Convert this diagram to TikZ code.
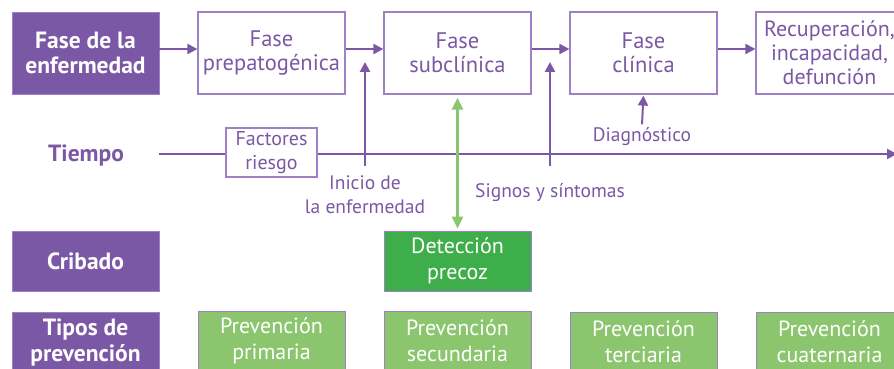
\documentclass[tikz,border=0pt]{standalone}
\usepackage{fontspec}
\setmainfont{PT Sans}
\usetikzlibrary{arrows.meta}
\definecolor{morado}{RGB}{123,88,165}
\definecolor{lila}{RGB}{158,128,196}
\definecolor{verde}{RGB}{139,198,110}
\definecolor{verdeosc}{RGB}{61,174,73}
\begin{document}
\begin{tikzpicture}[x=1pt,y=1pt,
    fase/.style={draw=lila,line width=1.2pt,fill=white,minimum width=147pt,minimum height=82pt,inner sep=0pt,align=center,text=morado,font=\fontsize{22.5}{24}\selectfont},
    titulo/.style={draw=lila,line width=0.8pt,fill=morado,minimum width=147pt,minimum height=60pt,inner sep=0pt,align=center,text=white,font=\fontsize{23.5}{26}\selectfont\bfseries},
    prev/.style={draw=lila,line width=0.8pt,fill=verde,minimum width=147pt,minimum height=60pt,inner sep=0pt,align=center,text=white,font=\fontsize{22}{26}\selectfont},
    etiq/.style={text=morado,align=center,font=\fontsize{19.5}{24}\selectfont},
    flecha/.style={morado,line width=2pt,-{Triangle[length=10pt,width=10pt]}}]
    \useasboundingbox (0,0) rectangle (894,369);
    % fases
    \node[titulo,minimum height=82pt,font=\fontsize{23.5}{25}\selectfont\bfseries] (enf) at (85.5,316) {Fase de la\\enfermedad};
    \node[fase] (pre) at (271.5,316) {Fase\\prepatogénica};
    \node[fase] (sub) at (457.5,316) {Fase\\subclínica};
    \node[fase] (cli) at (643.5,316) {Fase\\clínica};
    \node[fase,font=\fontsize{22}{24}\selectfont] (rec) at (829.5,316) {Recuperación,\\incapacidad,\\defunción};
    \draw[flecha] ([yshift=4pt]enf.east) -- ([yshift=4pt]pre.west);
    \draw[flecha] ([yshift=4pt]pre.east) -- ([yshift=4pt]sub.west);
    \draw[flecha] ([yshift=4pt]sub.east) -- ([yshift=4pt]cli.west);
    \draw[flecha] ([yshift=4pt]cli.east) -- ([yshift=4pt]rec.west);
    % tiempo
    \node[etiq,font=\fontsize{23.5}{24}\selectfont\bfseries] (tiem) at (86,214) {Tiempo};
    \coordinate (t0) at (159,215);
    \coordinate (t1) at (897,215);
    \draw[flecha] (t0) -- (t1);
    \node[fase,minimum width=91pt,minimum height=49pt,font=\fontsize{20}{24}\selectfont] (fac) at (271.5,216.5) {Factores\\riesgo};
    \node[etiq] (ini) at (365,174) {Inicio de\\la enfermedad};
    \node[etiq] (sig) at (550,176) {Signos y síntomas};
    \node[etiq] (diag) at (642,232) {Diagnóstico};
    \coordinate (i0) at (365,203);
    \coordinate (i1) at (365,307);
    \coordinate (s0) at (550,203);
    \coordinate (s1) at (550,307);
    \draw[flecha,line width=2.5pt] (i0) -- (i1);
    \draw[flecha,line width=2.5pt] (s0) -- (s1);
    \draw[flecha,shorten >=1pt] (diag.north) -- (cli.south);
    % cribado
    \node[titulo] (cri) at (85.5,108) {Cribado};
    \node[prev,fill=verdeosc] (det) at (457.5,108) {Detección\\precoz};
    \draw[verde,line width=2.5pt,{Triangle[length=12pt,width=11pt]}-{Triangle[length=12pt,width=11pt]},shorten <=3pt,shorten >=2pt] (sub.south) -- (det.north);
    % prevencion
    \node[titulo] (tip) at (85.5,27) {Tipos de\\prevención};
    \node[prev] (p1) at (271.5,28) {Prevención\\primaria};
    \node[prev] (p2) at (457.5,28) {Prevención\\secundaria};
    \node[prev] (p3) at (643.5,27) {Prevención\\terciaria};
    \node[prev] (p4) at (829.5,27) {Prevención\\cuaternaria};
\end{tikzpicture}
\end{document}
